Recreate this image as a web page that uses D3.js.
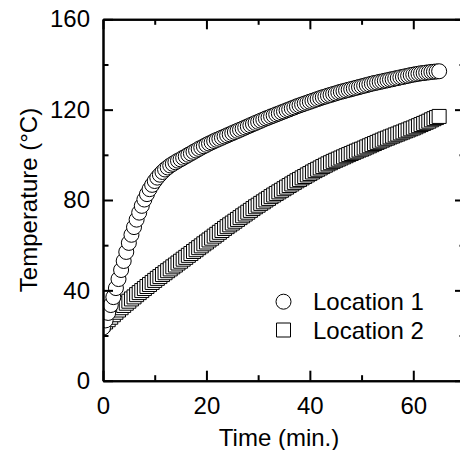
<!DOCTYPE html>
<html>
<head>
<meta charset="utf-8">
<script src="https://cdn.jsdelivr.net/npm/d3@7"></script>
<style>
  html, body { margin: 0; padding: 0; background: #fff; }
  svg { display: block; font-family: "Liberation Sans", Arial, sans-serif; }
</style>
</head>
<body>
<svg id="chart" width="460" height="450"></svg>
<script>
// Sampling times (min)
const times = [
  0,0.5,1,1.5,2,2.5,3,3.5,4,4.5,5,5.5,6,6.5,7,7.5,8,8.5,9,9.5,
  10,10.5,11,11.5,12,12.5,13,13.5,14,14.5,15,15.5,16,16.5,17,17.5,18,18.5,19,19.5,
  20,20.5,21,21.5,22,22.5,23,23.5,24,24.5,25,25.5,26,26.5,27,27.5,28,28.5,29,29.5,
  30,30.5,31,31.5,32,32.5,33,33.5,34,34.5,35,35.5,36,36.5,37,37.5,38,38.5,39,39.5,
  40,40.5,41,41.5,42,42.5,43,43.5,44,44.5,45,45.5,46,46.5,47,47.5,48,48.5,49,49.5,
  50,50.5,51,51.5,52,52.5,53,53.5,54,54.5,55,55.5,56,56.5,57,57.5,58,58.5,59,59.5,
  60,60.5,61,61.5,62,62.5,63,63.5,64,64.5,65
];

// Temperature at Location 1 (°C)
const location1 = [
  23.5,26.7,30,33.5,37,41,45,49,53,57,61,64.6,68,71.3,74.4,77.4,80.2,82.6,84.8,86.7,
  88.4,89.9,91.2,92.4,93.5,94.4,95.3,96,96.7,97.4,98,98.7,99.3,100,100.6,101.3,101.9,102.6,103.2,103.8,
  104.4,105,105.5,106.1,106.6,107.1,107.6,108.1,108.6,109.1,109.6,110.1,110.6,111.1,111.6,112.1,112.6,113.1,113.6,114.1,
  114.6,115.1,115.6,116.1,116.5,117,117.4,117.9,118.3,118.8,119.2,119.7,120.1,120.6,121,121.5,121.9,122.3,122.7,123.1,
  123.5,123.9,124.3,124.7,125.1,125.5,125.8,126.2,126.5,126.9,127.2,127.6,127.9,128.2,128.5,128.8,129.1,129.4,129.7,130,
  130.3,130.6,130.9,131.2,131.5,131.8,132,132.3,132.5,132.8,133,133.3,133.5,133.8,134,134.3,134.5,134.8,135,135.3,
  135.5,135.7,135.9,136.1,136.2,136.4,136.5,136.7,136.8,136.9,137
];

// Temperature at Location 2 (°C)
const location2 = [
  25,26,27,28.1,29.2,30.3,31.3,32.3,33.3,34.3,35.2,36.2,37.1,38.1,39,39.9,40.8,41.7,42.6,43.5,
  44.4,45.3,46.1,47,47.8,48.7,49.5,50.4,51.2,52.1,52.9,53.8,54.6,55.5,56.3,57.2,58,58.9,59.7,60.6,
  61.4,62.3,63.1,64,64.8,65.7,66.5,67.4,68.2,69,69.8,70.6,71.4,72.2,73,73.8,74.6,75.4,76.2,77,
  77.7,78.5,79.2,80,80.7,81.5,82.2,82.9,83.6,84.3,85,85.7,86.4,87.1,87.8,88.5,89.1,89.8,90.4,91.1,
  91.7,92.4,93,93.6,94.2,94.8,95.4,96,96.5,97.1,97.6,98.1,98.6,99.1,99.6,100.1,100.6,101.1,101.6,102.1,
  102.5,103,103.5,104,104.5,105,105.5,106,106.5,107,107.4,107.9,108.3,108.8,109.2,109.7,110.1,110.6,111,111.5,
  111.9,112.4,112.9,113.4,113.9,114.4,114.9,115.5,116,116.5,117
];

const xMajorTicks = [0, 20, 40, 60];
const xMinorTicks = [10, 30, 50, 70];
const yMajorTicks = [0, 40, 80, 120, 160];
const yMinorTicks = [20, 60, 100, 140];
const seriesNames = ["Location 1", "Location 2"];

const svg = d3.select("#chart");
const plotLeft = 103, plotRight = 465, plotTop = 19.3, plotBottom = 380.7;

const x = d3.scaleLinear().domain([0, 70]).range([plotLeft, plotRight]);
const y = d3.scaleLinear().domain([0, 160]).range([plotBottom, plotTop]);

const circleSym = d3.symbol().type(d3.symbolCircle).size(Math.PI * 7.5 * 7.5);
const squareSym = d3.symbol().type(d3.symbolSquare).size(14 * 14);

// Plot clip
svg.append("defs").append("clipPath").attr("id", "plotClip")
  .append("rect")
  .attr("x", plotLeft).attr("y", plotTop)
  .attr("width", plotRight - plotLeft).attr("height", plotBottom - plotTop);

const marks = svg.append("g").attr("clip-path", "url(#plotClip)");

const rows2 = times.map((t, i) => ({ t, v: location2[i] }));
const rows1 = times.map((t, i) => ({ t, v: location1[i] }));

marks.append("g").selectAll("path").data(rows2).join("path")
  .attr("d", squareSym)
  .attr("transform", d => `translate(${x(d.t)},${y(d.v)})`)
  .attr("fill", "#fff").attr("stroke", "#000").attr("stroke-width", 1);

marks.append("g").selectAll("path").data(rows1).join("path")
  .attr("d", circleSym)
  .attr("transform", d => `translate(${x(d.t)},${y(d.v)})`)
  .attr("fill", "#fff").attr("stroke", "#000").attr("stroke-width", 1);

// Axes (ticks point inward)
function styleAxis(g) {
  g.selectAll(".domain").attr("stroke-width", 2);
  g.selectAll(".tick line").attr("stroke-width", 2);
  g.selectAll("text").attr("font-size", 24).attr("fill", "#000")
    .attr("font-family", '"Liberation Sans", Arial, sans-serif');
}

// bottom
svg.append("g").attr("transform", `translate(0,${plotBottom})`)
  .call(d3.axisBottom(x).tickValues(xMinorTicks).tickSize(-5.5).tickSizeOuter(0).tickFormat(""))
  .call(styleAxis);
svg.append("g").attr("transform", `translate(0,${plotBottom})`)
  .call(d3.axisBottom(x).tickValues(xMajorTicks).tickSize(-10).tickSizeOuter(0).tickPadding(16).tickFormat(d3.format("d")))
  .call(styleAxis);

// top
svg.append("g").attr("transform", `translate(0,${plotTop})`)
  .call(d3.axisTop(x).tickValues(xMinorTicks).tickSize(-5.5).tickSizeOuter(0).tickFormat(""))
  .call(styleAxis);
svg.append("g").attr("transform", `translate(0,${plotTop})`)
  .call(d3.axisTop(x).tickValues(xMajorTicks).tickSize(-10).tickSizeOuter(0).tickFormat(""))
  .call(styleAxis);

// left
svg.append("g").attr("transform", `translate(${plotLeft},0)`)
  .call(d3.axisLeft(y).tickValues(yMinorTicks).tickSize(-5.5).tickSizeOuter(0).tickFormat(""))
  .call(styleAxis);
svg.append("g").attr("transform", `translate(${plotLeft},0)`)
  .call(d3.axisLeft(y).tickValues(yMajorTicks).tickSize(-10).tickSizeOuter(0).tickPadding(13).tickFormat(d3.format("d")))
  .call(styleAxis);

// right
svg.append("g").attr("transform", `translate(${plotRight},0)`)
  .call(d3.axisRight(y).tickValues(yMinorTicks).tickSize(-5.5).tickSizeOuter(0).tickFormat(""))
  .call(styleAxis);
svg.append("g").attr("transform", `translate(${plotRight},0)`)
  .call(d3.axisRight(y).tickValues(yMajorTicks).tickSize(-10).tickSizeOuter(0).tickFormat(""))
  .call(styleAxis);

// Axis titles
svg.append("text")
  .attr("x", 279).attr("y", 446)
  .attr("text-anchor", "middle").attr("font-size", 24).attr("fill", "#000")
  .text("Time (min.)");

svg.append("text")
  .attr("transform", `translate(37,${(plotTop + plotBottom) / 2}) rotate(-90)`)
  .attr("text-anchor", "middle").attr("font-size", 24).attr("fill", "#000")
  .text("Temperature (°C)");

// Legend
const legend = svg.append("g");
const legendRows = [
  { name: seriesNames[0], sym: circleSym, cy: 301.7, base: 310 },
  { name: seriesNames[1], sym: squareSym, cy: 330, base: 339 }
];
legendRows.forEach(r => {
  legend.append("path")
    .attr("d", r.sym)
    .attr("transform", `translate(283.5,${r.cy})`)
    .attr("fill", "#fff").attr("stroke", "#000").attr("stroke-width", 1);
  legend.append("text")
    .attr("x", 313).attr("y", r.base)
    .attr("font-size", 24).attr("fill", "#000")
    .text(r.name);
});
</script>
</body>
</html>
